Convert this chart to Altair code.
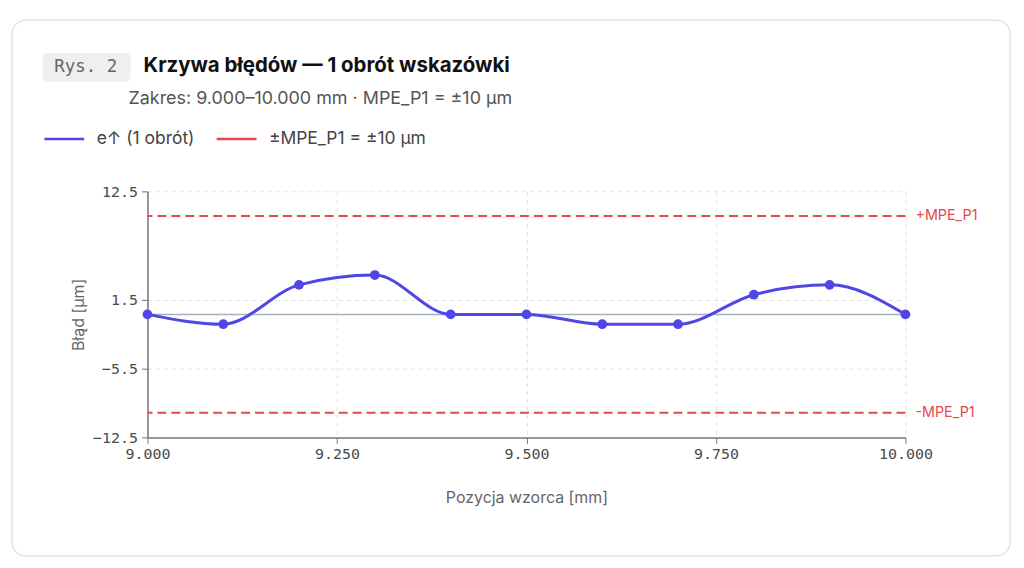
import pandas as pd
import altair as alt

# dane pomiarowe
positions = [9.0, 9.1, 9.2, 9.3, 9.4, 9.5, 9.6, 9.7, 9.8, 9.9, 10.0]
errors = [0, -1, 3, 4, 0, 0, -1, -1, 2, 3, 0]
mpe_levels = [10, -10]
mpe_labels = ["+MPE_P1", "-MPE_P1"]
x_ticks = [9.0, 9.25, 9.5, 9.75, 10.0]
y_ticks = [-12.5, -5.5, 1.5, 12.5]

series_curve = "e\u2191 (1 obrót)"
series_mpe = "±MPE_P1 = ±10 µm"

BLUE = "#4f46e5"
RED = "#e5484d"
W, H = 761, 247

df = pd.DataFrame({"pos": positions, "err": errors, "series": series_curve})
df_mpe = pd.DataFrame({"y": mpe_levels, "label": mpe_labels, "series": series_mpe})

color = alt.Color(
    "series:N",
    scale=alt.Scale(domain=[series_curve, series_mpe], range=[BLUE, RED]),
    legend=alt.Legend(
        title=None, orient="none", direction="horizontal",
        legendX=-105, legendY=-74,
        symbolType="stroke", symbolSize=1600, symbolStrokeWidth=2.5,
        labelFont="Inter", labelFontSize=17.5, labelColor="#444",
        labelOffset=11, columnPadding=16,
    ),
)

yscale = alt.Scale(domain=[-12.5, 12.5], nice=False)

x = alt.X("pos:Q", scale=alt.Scale(domain=[9, 10], nice=False),
          axis=alt.Axis(values=x_ticks, format=".3f", title="Pozycja wzorca [mm]",
                        titlePadding=28, labelPadding=3, labelFlush=False))
y = alt.Y("err:Q", scale=yscale,
          axis=alt.Axis(values=y_ticks, format=".1f", title="Błąd [µm]",
                        titlePadding=6, labelPadding=4))

# karta w tle (dekoracja)
card = alt.Chart(pd.DataFrame({"a": [0]})).mark_rect(
    fillOpacity=0, stroke="#dcdcdc", strokeWidth=1.2, cornerRadius=14, clip=False
).encode(x=alt.value(-136), x2=alt.value(866), y=alt.value(-172), y2=alt.value(366))

badge = alt.Chart(pd.DataFrame({"a": [0]})).mark_rect(
    fill="#eeeff1", cornerRadius=5
).encode(x=alt.value(-105), x2=alt.value(-17), y=alt.value(-139), y2=alt.value(-110))

badge_text = alt.Chart(pd.DataFrame({"t": ["Rys. 2"]})).mark_text(
    font="DejaVu Sans Mono", fontSize=17.5, color="#666", align="center", baseline="middle"
).encode(x=alt.value(-62), y=alt.value(-124.5), text="t:N")

title = alt.Chart(pd.DataFrame({"t": ["Krzywa błędów — 1 obrót wskazówki"]})).mark_text(
    font="Inter", fontSize=20.5, fontWeight="bold", color="#111", align="left", baseline="middle"
).encode(x=alt.value(-4), y=alt.value(-126), text="t:N")

subtitle = alt.Chart(pd.DataFrame({"t": ["Zakres: 9.000–10.000 mm · MPE_P1 = ±10 µm"]})).mark_text(
    font="Inter", fontSize=18, color="#555", align="left", baseline="middle"
).encode(x=alt.value(-19), y=alt.value(-93), text="t:N")

zero = alt.Chart(pd.DataFrame({"y": [0]})).mark_rule(color="#a7b1c2", strokeWidth=1.5).encode(
    y=alt.Y("y:Q", scale=yscale)
)

mpe = alt.Chart(df_mpe).mark_rule(strokeDash=[9, 5], strokeWidth=2).encode(
    y=alt.Y("y:Q", scale=yscale),
    color=color,
)

mpe_text = alt.Chart(df_mpe).mark_text(
    font="Inter", fontSize=14.4, color=RED, align="left", baseline="middle", dx=10
).encode(
    x=alt.value(W),
    y=alt.Y("y:Q", scale=yscale),
    text="label:N",
)

curve = alt.Chart(df).mark_line(interpolate="monotone", strokeWidth=3).encode(
    x=x, y=y, color=color
)

points = alt.Chart(df).mark_circle(size=95, opacity=1, color=BLUE).encode(
    x=alt.X("pos:Q"), y=alt.Y("err:Q")
)

chart = alt.layer(
    card, badge, badge_text, title, subtitle, zero, mpe, mpe_text, curve, points
).properties(
    width=W, height=H, background="white",
    padding={"left": 3, "top": 10, "right": 5, "bottom": 5},
).configure_view(
    stroke=None
).configure_axis(
    labelFont="DejaVu Sans Mono", labelFontSize=15, labelColor="#4a4a4a",
    titleFont="Inter", titleFontSize=16, titleFontWeight="normal", titleColor="#666",
    domainColor="#777", domainWidth=1.5, tickColor="#777", tickSize=6,
    gridColor="#e2e2e2", gridDash=[4, 4], grid=True,
)

chart.save("out.html", embed_options={"renderer": "svg", "actions": False})
